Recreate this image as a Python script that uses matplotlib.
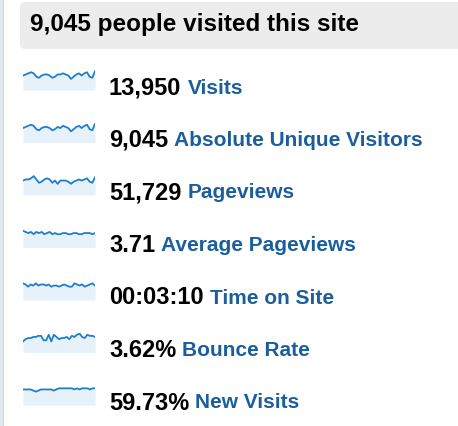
import matplotlib.pyplot as plt
from matplotlib.patches import FancyBboxPatch

# Values
HEADLINE = '9,045 people visited this site'
NUMBERS = ['13,950', '9,045', '51,729', '3.71', '00:03:10', '3.62%', '59.73%']
LABELS = ['Visits', 'Absolute Unique Visitors', 'Pageviews', 'Average Pageviews',
          'Time on Site', 'Bounce Rate', 'New Visits']

visits = [5, 6, 7, 8, 7, 4, 3, 5, 6, 6, 5, 3, 4, 6, 6, 7, 6, 5, 2, 4, 6, 7, 5, 7, 8, 4, 3, 9]
unique = [5, 6, 7, 8, 7, 4, 3, 5, 6, 6, 5, 3, 4, 6, 5, 7, 6, 5, 2, 4, 6, 7, 5, 7, 8, 4, 3, 9]
pageviews = [5, 6, 6, 7, 9, 6, 3, 4, 6, 7, 6, 3, 5, 2, 5, 5, 5, 4, 2, 4, 5, 6, 5, 6, 7, 4, 3, 8]
avg_pv = [7, 6, 5, 6, 4, 6, 5, 6, 4, 5, 6, 4, 5, 4, 4, 5, 5, 4, 4, 5, 5, 4, 4, 5, 5, 5, 4, 5]
time_site = [7, 6, 4, 6, 5, 7, 5, 6, 6, 5, 6, 4, 5, 5, 4, 5, 6, 5, 4, 4, 7, 6, 5, 6, 4, 5, 6, 7, 5]
bounce = [2, 4, 5, 5, 6, 6, 7, 7, 3, 3, 8, 2, 8, 6, 4, 5, 5, 6, 4, 7, 6, 8, 9, 6, 5, 8, 7, 7, 6]
new_visits = [6, 6, 6, 6, 5, 4, 5, 6, 6, 6, 6, 6, 5, 6, 7, 7, 7, 7, 7, 7, 6, 7, 6, 7, 7, 7, 6, 7, 7]
SERIES = [visits, unique, pageviews, avg_pv, time_site, bounce, new_visits]

W, H = 458, 426
fig = plt.figure(figsize=(W / 100, H / 100), dpi=100)
fig.patch.set_facecolor('white')

# thin left border and header box
fig.patches.append(plt.Rectangle((0, 0), 3 / W, 1, transform=fig.transFigure,
                                 facecolor='#e3e8ef', edgecolor='none'))
fig.patches.append(plt.Rectangle((3 / W, 0), 1 / W, 1, transform=fig.transFigure,
                                 facecolor='#cfd6df', edgecolor='none'))

box = FancyBboxPatch((20 / W, 1 - 49 / H), 445 / W, 47 / H,
                     boxstyle='round,pad=0,rounding_size=0.012',
                     transform=fig.transFigure, facecolor='#ececec', edgecolor='none')
fig.patches.append(box)
fig.text(30 / W, 1 - 25 / H, HEADLINE, fontsize=17.5, fontweight='bold',
         va='center', ha='left', color='black', family='Liberation Sans')

for i, (num, lab, ys) in enumerate(zip(NUMBERS, LABELS, SERIES)):
    yc = 88 + i * 52.5
    ax = fig.add_axes([23 / W, 1 - (yc + 2) / H, 72 / W, 20 / H])
    xs = range(len(ys))
    ax.fill_between(xs, ys, -8, color='#e6f1fa', lw=0)
    ax.plot(xs, ys, color='#1f7fcc', lw=1.3)
    ax.set_xlim(0, len(ys) - 1)
    ax.set_ylim(-8, 10)
    ax.axis('off')

    t = fig.text(109 / W, 1 - yc / H, num, fontsize=17, fontweight='bold',
                 va='center', ha='left', color='black', family='Liberation Sans')
    fig.canvas.draw()
    bb = t.get_window_extent()
    fig.text((bb.x1 + 6) / W, 1 - yc / H, lab, fontsize=15, fontweight='bold',
             va='center', ha='left', color='#1b5e9e', family='Liberation Sans')

fig.savefig('out.png', dpi=100)
